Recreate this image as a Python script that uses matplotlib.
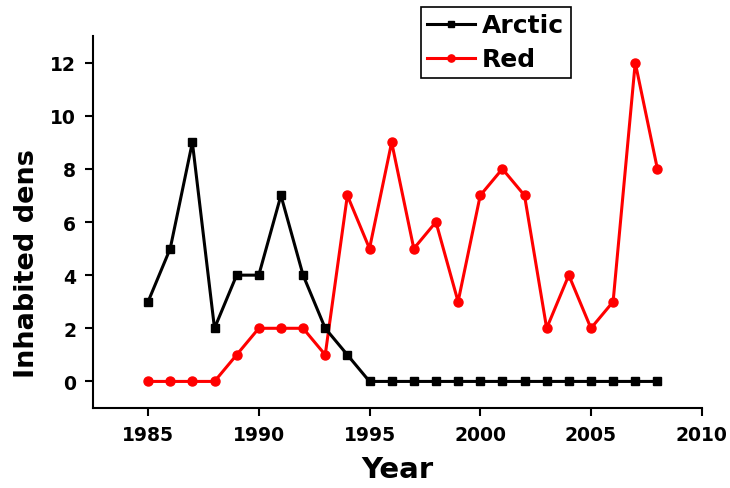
import matplotlib
matplotlib.use("Agg")
import matplotlib.pyplot as plt

years = list(range(1985, 2009))
arctic = [3, 5, 9, 2, 4, 4, 7, 4, 2, 1, 0, 0, 0, 0, 0, 0, 0, 0, 0, 0, 0, 0, 0, 0]
red = [0, 0, 0, 0, 1, 2, 2, 2, 1, 7, 5, 9, 5, 6, 3, 7, 8, 7, 2, 4, 2, 3, 12, 8]
xticks = [1985, 1990, 1995, 2000, 2005, 2010]
yticks = [0, 2, 4, 6, 8, 10, 12]

plt.rcParams['font.family'] = ['DejaVu Sans']
plt.rcParams['font.weight'] = 'bold'

fig = plt.figure(figsize=(7.30, 4.89), dpi=100)
ax = fig.add_axes([0.127, 0.1636, 0.8342, 0.7607])

ax.plot(years, arctic, color='black', lw=2.2, marker='s', ms=5.8, label='Arctic', zorder=3)
ax.plot(years, red, color='#ff0000', lw=2.2, marker='o', ms=6.5, label='Red', zorder=2)

ax.set_xlim(1982.5, 2010)
ax.set_ylim(-1, 13)
ax.set_xticks(xticks)
ax.set_yticks(yticks)
ax.spines['top'].set_visible(False)
ax.spines['right'].set_visible(False)
for s in ('left', 'bottom'):
    ax.spines[s].set_linewidth(1.5)
ax.tick_params(direction='out', length=6, width=1.5, labelsize=13.5, pad=6)
for lab in ax.get_xticklabels() + ax.get_yticklabels():
    lab.set_fontweight('bold')

ax.set_xlabel('Year', fontsize=21, fontweight='bold', va='center')
ax.xaxis.set_label_coords(0.5, -0.164)
ax.set_ylabel('Inhabited dens', fontsize=19.5, fontweight='bold', va='center', ha='center')
ax.yaxis.set_label_coords(-0.108, 0.39)

leg = fig.legend(loc='upper left', bbox_to_anchor=(421 / 730, 1 - 8 / 489),
                 frameon=True, fancybox=False, edgecolor='black', framealpha=1,
                 prop={'size': 18, 'weight': 'bold'}, handlelength=1.9,
                 markerscale=0.8, borderpad=0.25, labelspacing=0.4,
                 handletextpad=0.3, borderaxespad=0)
leg.get_frame().set_linewidth(1.2)

fig.savefig('out.png', dpi=100)
